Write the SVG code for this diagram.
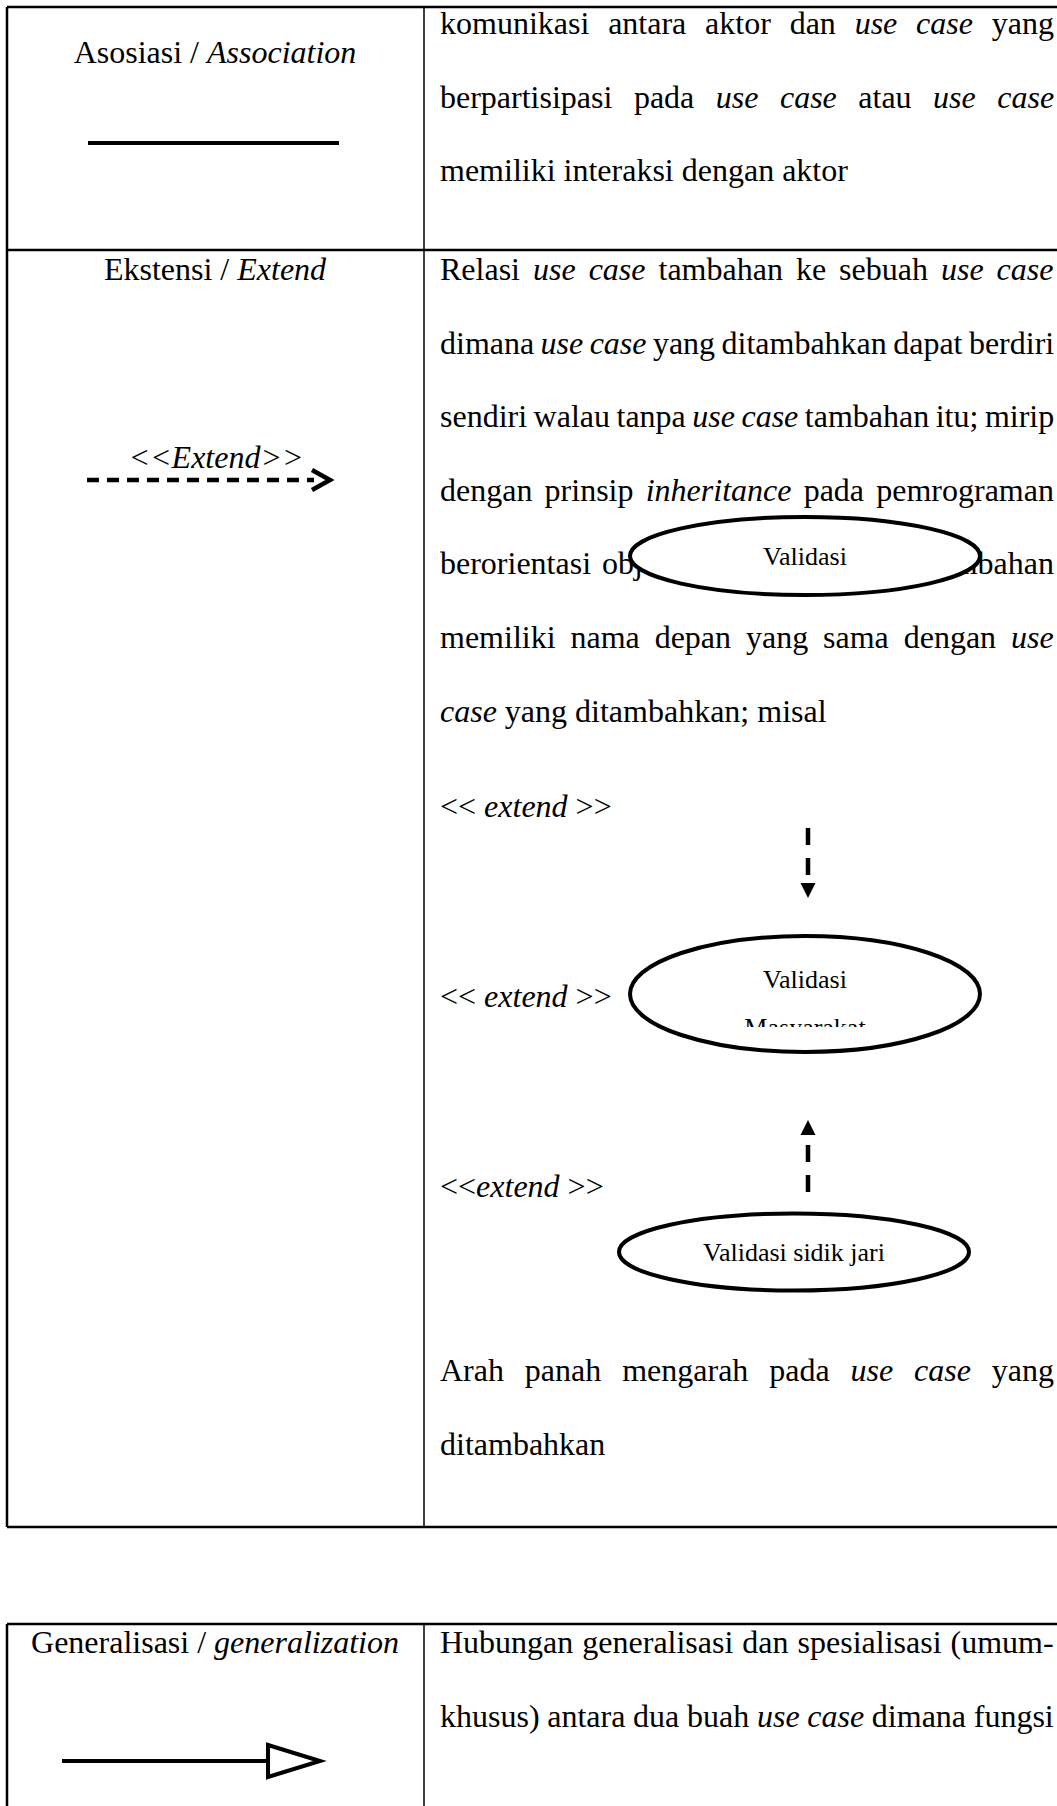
<svg xmlns="http://www.w3.org/2000/svg" width="1057" height="1806" viewBox="0 0 1057 1806">
<style>
.t{font-family:"Liberation Serif","Times New Roman",serif;font-size:32px;fill:#000}
.i{font-style:italic}
.uc{font-family:"Liberation Serif","Times New Roman",serif;font-size:26px;fill:#000}
.bd{stroke:#000;stroke-width:2.5;fill:none}
.cd{stroke:#000;stroke-width:1.5;fill:none}
.node{fill:#fff;stroke:#000;stroke-width:4}
.ln{stroke:#000;stroke-width:4;fill:none}
.dash{stroke:#000;stroke-width:4.5;fill:none}
</style>
<defs>
<clipPath id="clipM"><rect x="600" y="900" width="400" height="127"/></clipPath>
</defs>
<rect width="1057" height="1806" fill="#fff"/>
<g id="table-borders">
<path class="bd" d="M7,7 H1057 M7,250 H1057 M7,1527 H1057 M7,7 V1527"/>
<path class="cd" d="M424,7 V1527"/>
<path class="bd" d="M7,1624 H1057 M7,1624 V1806"/>
<path class="cd" d="M424,1624 V1806"/>
</g>
<g id="row-association">
<text class="t" x="215" y="63" text-anchor="middle">Asosiasi / <tspan class="i">Association</tspan></text>
<text class="t" x="440" y="34" style="word-spacing:10.8px">komunikasi antara aktor dan <tspan class="i">use case</tspan> yang</text>
<text class="t" x="440" y="107.6" style="word-spacing:13.5px">berpartisipasi pada <tspan class="i">use case</tspan> atau <tspan class="i">use case</tspan></text>
<text class="t" x="440" y="181.2">memiliki interaksi dengan aktor</text>
</g>
<g id="row-extend">
<text class="t" x="215" y="280" text-anchor="middle">Ekstensi / <tspan class="i">Extend</tspan></text>
<text class="t i" x="216" y="468" text-anchor="middle">&lt;&lt;Extend&gt;&gt;</text>
<text class="t" x="440" y="280" style="word-spacing:5px">Relasi <tspan class="i">use case</tspan> tambahan ke sebuah <tspan class="i">use case</tspan></text>
<text class="t" x="440" y="353.6" style="word-spacing:-1.6px">dimana <tspan class="i">use case</tspan> yang ditambahkan dapat berdiri</text>
<text class="t" x="440" y="427.2" style="word-spacing:-1.5px">sendiri walau tanpa <tspan class="i">use case</tspan> tambahan itu; mirip</text>
<text class="t" x="440" y="500.8" style="word-spacing:4.2px">dengan prinsip <tspan class="i">inheritance</tspan> pada pemrograman</text>
<text class="t" x="440" y="574.4" style="word-spacing:3px">berorientasi obj</text>
<text class="t" x="1054" y="574.4" text-anchor="end">mbahan</text>
<text class="t" x="440" y="648" style="word-spacing:6.9px">memiliki nama depan yang sama dengan <tspan class="i">use</tspan></text>
<text class="t" x="440" y="721.6"><tspan class="i">case</tspan> yang ditambahkan; misal</text>
<text class="t" x="440" y="817">&lt;&lt; <tspan class="i">extend</tspan> &gt;&gt;</text>
<text class="t" x="440" y="1007">&lt;&lt; <tspan class="i">extend</tspan> &gt;&gt;</text>
<text class="t" x="440" y="1197">&lt;&lt;<tspan class="i">extend</tspan> &gt;&gt;</text>
<text class="t" x="440" y="1381" style="word-spacing:12.9px">Arah panah mengarah pada <tspan class="i">use case</tspan> yang</text>
<text class="t" x="440" y="1455">ditambahkan</text>
</g>
<g id="row-generalization">
<text class="t" x="215" y="1653" text-anchor="middle">Generalisasi / <tspan class="i">generalization</tspan></text>
<text class="t" x="440" y="1653" style="word-spacing:1px">Hubungan generalisasi dan spesialisasi (umum-</text>
<text class="t" x="440" y="1726.6" style="word-spacing:-0.3px">khusus) antara dua buah <tspan class="i">use case</tspan> dimana fungsi</text>
</g>
<g id="uc-validasi-top">
<ellipse class="node" cx="805" cy="556" rx="175" ry="39"/>
<text class="uc" x="805" y="565" text-anchor="middle">Validasi</text>
</g>
<g id="uc-validasi-masyarakat">
<ellipse class="node" cx="805" cy="994" rx="175" ry="58"/>
<text class="uc" x="805" y="988" text-anchor="middle">Validasi</text>
<text class="uc" x="805" y="1036" text-anchor="middle" clip-path="url(#clipM)">Masyarakat</text>
</g>
<g id="uc-validasi-sidik-jari">
<ellipse class="node" cx="794" cy="1252" rx="175" ry="38.5"/>
<text class="uc" x="794" y="1261" text-anchor="middle">Validasi sidik jari</text>
</g>
<g id="connectors">
<line class="ln" x1="88" y1="143" x2="339" y2="143"/>
<line class="dash" x1="87" y1="480" x2="314" y2="480" stroke-dasharray="12 8"/>
<path class="dash" d="M312,470 L330,480 L312,490"/>
<line class="dash" x1="808" y1="828" x2="808" y2="875" stroke-dasharray="17 13"/>
<polygon points="800.5,883 815.5,883 808,898" fill="#000"/>
<line class="dash" x1="808" y1="1145" x2="808" y2="1192" stroke-dasharray="17 13"/>
<polygon points="800.5,1135 815.5,1135 808,1120" fill="#000"/>
<line class="ln" x1="62" y1="1761" x2="268" y2="1761"/>
<polygon points="268,1745 320,1761 268,1777" fill="#fff" stroke="#000" stroke-width="4"/>
</g>
</svg>
